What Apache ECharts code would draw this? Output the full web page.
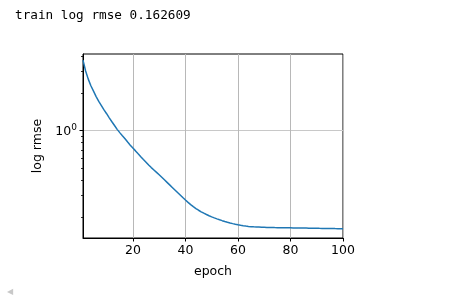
<!DOCTYPE html>
<html>
<head>
<meta charset="utf-8">
<script src="https://cdn.jsdelivr.net/npm/echarts@6/dist/echarts.min.js"></script>
<style>
html,body{margin:0;padding:0;background:#fff;}
#c{width:465px;height:299px;}
</style>
</head>
<body>
<div id="c"></div>
<script>
const titleText = 'train log rmse 0.162609';
const epochs = [];
for (let i = 1; i <= 100; i++) epochs.push(i);
const trainLogRmse = [
  3.70, 3.02, 2.60, 2.30, 2.08, 1.88, 1.72, 1.59, 1.47, 1.37,
  1.27, 1.18, 1.10, 1.025, 0.965, 0.91, 0.86, 0.81, 0.765, 0.725,
  0.688, 0.652, 0.618, 0.587, 0.558, 0.530, 0.505, 0.483, 0.462, 0.442,
  0.4218, 0.4025, 0.3840, 0.3664, 0.3496, 0.3336, 0.3183, 0.3037, 0.2897, 0.2767,
  0.2649, 0.2542, 0.2447, 0.2364, 0.2291, 0.2226, 0.2169, 0.2117, 0.2070, 0.2028,
  0.1989, 0.1953, 0.1920, 0.1889, 0.1861, 0.1834, 0.1810, 0.1788, 0.1767, 0.1749,
  0.1733, 0.1720, 0.1708, 0.1699, 0.1691, 0.1685, 0.1681, 0.1677, 0.1673, 0.1670,
  0.1667, 0.1665, 0.1663, 0.1661, 0.1660, 0.1658, 0.1657, 0.1655, 0.1654, 0.1653,
  0.1652, 0.1650, 0.1649, 0.1648, 0.1646, 0.1645, 0.1644, 0.1642, 0.1641, 0.1640,
  0.1638, 0.1637, 0.1636, 0.1634, 0.1633, 0.1632, 0.1630, 0.1629, 0.1628, 0.1626
];
const xTicks = [20, 40, 60, 80, 100];
const yMajorTicks = [1];
const yMinorTicks = [0.2, 0.3, 0.4, 0.5, 0.6, 0.7, 0.8, 0.9, 2, 3, 4];
const xMin = 1, xMax = 100;
const yMin = 0.137, yMax = 4.14;

const chart = echarts.init(document.getElementById('c'), null, {renderer: 'canvas'});
const font = 'DejaVu Sans';
chart.setOption({
  animation: false,
  backgroundColor: '#fff',
  graphic: [
    {type: 'text', left: 15, top: 9, style: {text: titleText, font: '12.7px "DejaVu Sans Mono"', fill: '#000'}},
    {type: 'text', left: 7, top: 288, style: {text: '◀', font: '8px "DejaVu Sans"', fill: '#c8c8c8'}}
  ],
  grid: {left: 83, right: 122, top: 54, bottom: 61, show: true, borderColor: '#000', borderWidth: 1, backgroundColor: 'transparent'},
  xAxis: {
    type: 'value', min: xMin, max: xMax,
    name: 'epoch', nameLocation: 'middle', nameGap: 27,
    nameTextStyle: {fontFamily: font, fontSize: 12.5, color: '#000'},
    axisLine: {show: true, lineStyle: {color: '#000', width: 1}},
    axisTick: {show: true, customValues: xTicks, length: 3.5, lineStyle: {color: '#000'}},
    axisLabel: {customValues: xTicks, margin: 6.5, fontFamily: font, fontSize: 12.5, color: '#000'},
    splitLine: {show: true, lineStyle: {color: '#b8b8b8', width: 1}}
  },
  yAxis: [
    {
      type: 'log', logBase: 10, min: yMin, max: yMax, position: 'left',
      name: 'log rmse', nameLocation: 'middle', nameGap: 39,
      nameTextStyle: {fontFamily: font, fontSize: 12.5, color: '#000'},
      axisLine: {show: true, lineStyle: {color: '#000', width: 1}},
      axisTick: {show: true, customValues: yMajorTicks, length: 3.5, lineStyle: {color: '#000'}},
      axisLabel: {
        customValues: yMajorTicks, margin: 6,
        formatter: function (v) { return '{b|10}{s|0}'; },
        rich: {
          b: {fontFamily: font, fontSize: 12.5, color: '#000', lineHeight: 16, verticalAlign: 'bottom'},
          s: {fontFamily: font, fontSize: 9, color: '#000', lineHeight: 16, verticalAlign: 'top', padding: [0, 0, 0, 0]}
        }
      },
      splitLine: {show: true, lineStyle: {color: '#c8c8c8', width: 1}}
    },
    {
      type: 'log', logBase: 10, min: yMin, max: yMax, position: 'left', offset: 0,
      axisLine: {show: false},
      axisTick: {show: true, customValues: yMinorTicks, length: 2, lineStyle: {color: '#000', width: 0.8}},
      axisLabel: {show: false},
      splitLine: {show: false}
    }
  ],
  series: [{
    type: 'line',
    xAxisIndex: 0, yAxisIndex: 0,
    data: epochs.map((e, i) => [e, trainLogRmse[i]]),
    showSymbol: false,
    lineStyle: {color: '#1f77b4', width: 1.5},
    itemStyle: {color: '#1f77b4'}
  }]
});
</script>
</body>
</html>
